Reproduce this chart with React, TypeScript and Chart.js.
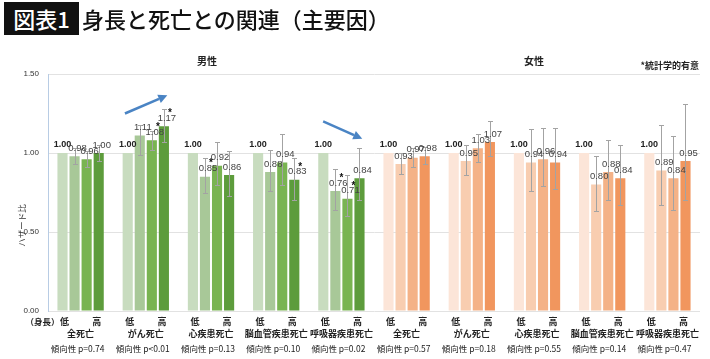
import React, { useEffect, useRef } from "react";
import { Chart, registerables } from "chart.js";
Chart.register(...registerables);

const categories = ["全死亡", "がん死亡", "心疾患死亡", "脳血管疾患死亡", "呼吸器疾患死亡", "全死亡", "がん死亡", "心疾患死亡", "脳血管疾患死亡", "呼吸器疾患死亡"];
const trendP = ["p=0.74", "p<0.01", "p=0.13", "p=0.10", "p=0.02", "p=0.57", "p=0.18", "p=0.55", "p=0.14", "p=0.47"];
const sexLabels = ["男性", "女性"];
const yTicks = [0, 0.5, 1.0, 1.5];

// hazard ratios by height quartile (低 → 高)
const q1 = [1.0, 1.0, 1.0, 1.0, 1.0, 1.0, 1.0, 1.0, 1.0, 1.0];
const q2 = [0.98, 1.11, 0.85, 0.88, 0.76, 0.93, 0.95, 0.94, 0.80, 0.89];
const q3 = [0.96, 1.08, 0.92, 0.94, 0.71, 0.97, 1.03, 0.96, 0.88, 0.84];
const q4 = [1.0, 1.17, 0.86, 0.83, 0.84, 0.98, 1.07, 0.94, 0.84, 0.95];
// 95% confidence intervals
const q2Low = [0.93, 0.99, 0.75, 0.76, 0.64, 0.87, 0.86, 0.76, 0.63, 0.67];
const q2High = [1.03, 1.18, 0.97, 1.02, 0.9, 1.0, 1.05, 1.15, 0.98, 1.18];
const q3Low = [0.91, 1.02, 0.8, 0.8, 0.6, 0.91, 0.94, 0.79, 0.7, 0.64];
const q3High = [1.01, 1.14, 1.07, 1.12, 0.86, 1.03, 1.12, 1.16, 1.08, 1.11];
const q4Low = [0.95, 1.07, 0.73, 0.7, 0.7, 0.93, 0.98, 0.77, 0.67, 0.7];
const q4High = [1.05, 1.28, 1.01, 0.97, 1.03, 1.04, 1.2, 1.16, 1.05, 1.31];
// statistically significant: [group, quartile index]
const significant: [number, number][] = [[1, 2], [1, 3], [2, 1], [3, 3], [4, 1], [4, 2]];
// trend arrows in data coordinates: [category position, hazard ratio]
const trendArrows = [
  { from: [0.68, 1.25], to: [1.33, 1.365] },
  { from: [3.72, 1.2], to: [4.32, 1.09] },
];

const maleColors = ["#c8dcbf", "#a8c898", "#79b451", "#5d9c3c"];
const femaleColors = ["#fce5d8", "#f8cdb0", "#f4b287", "#f1965e"];

const JP = '"Noto Sans CJK JP", "Noto Sans", sans-serif';
const NUM = '"Liberation Sans", "Noto Sans", sans-serif';

const annotPlugin = {
  id: "annot",
  afterDatasetsDraw(chart: any) {
    const ctx = chart.ctx;
    const xs = chart.scales.x;
    const ys = chart.scales.y;
    const area = chart.chartArea;
    const metas = [0, 1, 2, 3].map((i) => chart.getDatasetMeta(i));
    const values = [q1, q2, q3, q4];
    const lows = [null, q2Low, q3Low, q4Low];
    const highs = [null, q2High, q3High, q4High];
    ctx.save();

    // error bars
    ctx.strokeStyle = "#a3a3a3";
    ctx.lineWidth = 1;
    for (let d = 1; d < 4; d++) {
      for (let g = 0; g < categories.length; g++) {
        const bar = metas[d].data[g];
        const px = Math.round(bar.x) + 0.5;
        const yl = Math.round(ys.getPixelForValue(lows[d]![g])) + 0.5;
        const yh = Math.round(ys.getPixelForValue(highs[d]![g])) + 0.5;
        ctx.beginPath();
        ctx.moveTo(px, yl);
        ctx.lineTo(px, yh);
        ctx.moveTo(px - 2.5, yl);
        ctx.lineTo(px + 2.5, yl);
        ctx.moveTo(px - 2.5, yh);
        ctx.lineTo(px + 2.5, yh);
        ctx.stroke();
      }
    }

    // value labels
    ctx.textAlign = "center";
    ctx.textBaseline = "middle";
    for (let d = 0; d < 4; d++) {
      for (let g = 0; g < categories.length; g++) {
        const bar = metas[d].data[g];
        const v = values[d][g];
        if (d === 0) {
          ctx.font = "bold 9px " + NUM;
          ctx.fillStyle = "#222";
          ctx.fillText(v.toFixed(2), bar.x, bar.y - 8);
        } else {
          ctx.font = "9.5px " + NUM;
          ctx.fillStyle = "#444";
          ctx.fillText(v.toFixed(2), bar.x + 3, bar.y - 8);
        }
      }
    }

    // significance stars
    ctx.font = "bold 10px " + NUM;
    ctx.fillStyle = "#111";
    for (const [g, d] of significant) {
      const bar = metas[d].data[g];
      ctx.fillText("*", bar.x + 6, bar.y - 13);
    }

    // arrows
    ctx.strokeStyle = "#4a84c4";
    ctx.fillStyle = "#4a84c4";
    ctx.lineWidth = 2.5;
    for (const a of trendArrows) {
      const x0 = xs.getPixelForValue(a.from[0]);
      const y0 = ys.getPixelForValue(a.from[1]);
      const x1 = xs.getPixelForValue(a.to[0]);
      const y1 = ys.getPixelForValue(a.to[1]);
      const ang = Math.atan2(y1 - y0, x1 - x0);
      const hl = 9;
      const bx = x1 - hl * Math.cos(ang);
      const by = y1 - hl * Math.sin(ang);
      ctx.beginPath();
      ctx.moveTo(x0, y0);
      ctx.lineTo(bx, by);
      ctx.stroke();
      ctx.beginPath();
      ctx.moveTo(x1, y1);
      ctx.lineTo(bx + 4.5 * Math.sin(ang), by - 4.5 * Math.cos(ang));
      ctx.lineTo(bx - 4.5 * Math.sin(ang), by + 4.5 * Math.cos(ang));
      ctx.closePath();
      ctx.fill();
    }

    // x labels
    ctx.fillStyle = "#222";
    for (let g = 0; g < categories.length; g++) {
      const cx = xs.getPixelForValue(g);
      const b0 = metas[0].data[g];
      const b3 = metas[3].data[g];
      ctx.font = "bold 9px " + JP;
      ctx.textAlign = "center";
      ctx.fillText("低", b0.x + 2, area.bottom + 11);
      ctx.fillText("高", b3.x - 2, area.bottom + 11);
      ctx.fillText(categories[g], cx, area.bottom + 23);
      ctx.font = "8.5px " + JP;
      ctx.fillText("傾向性 " + trendP[g], cx - 3, area.bottom + 38);
      if (g === 0) {
        ctx.font = "bold 8.5px " + JP;
        ctx.textAlign = "right";
        ctx.fillText("（身長）", b0.x - 3, area.bottom + 11);
      }
    }

    // section headers
    ctx.textAlign = "center";
    ctx.font = "bold 10px " + JP;
    ctx.fillStyle = "#222";
    ctx.fillText(sexLabels[0], xs.getPixelForValue(2) - 4, area.top - 13);
    ctx.fillText(sexLabels[1], xs.getPixelForValue(7) - 3, area.top - 13);
    ctx.textAlign = "right";
    ctx.font = "bold 9px " + JP;
    ctx.fillText("*統計学的有意", area.right - 1, area.top - 8);

    // y title
    ctx.save();
    ctx.translate(22, (area.top + area.bottom) / 2 + 33);
    ctx.rotate(-Math.PI / 2);
    ctx.textAlign = "center";
    ctx.font = "8.5px " + JP;
    ctx.fillStyle = "#333";
    ctx.fillText("ハザード比", 0, 0);
    ctx.restore();

    ctx.restore();
  },
};

export default function App() {
  const ref = useRef<HTMLCanvasElement | null>(null);
  useEffect(() => {
    if (!ref.current) return;
    const colorsFor = (d: number) => categories.map((_, g) => (g < 5 ? maleColors[d] : femaleColors[d]));
    const chart = new Chart(ref.current, {
      type: "bar",
      data: {
        labels: categories,
        datasets: [q1, q2, q3, q4].map((vals, d) => ({
          label: "Q" + (d + 1),
          data: vals,
          backgroundColor: colorsFor(d),
          borderWidth: 0,
          categoryPercentage: 0.74,
          barPercentage: 0.84,
        })),
      },
      options: {
        responsive: false,
        animation: false,
        devicePixelRatio: 1,
        layout: { padding: { left: 0, top: 74, right: 10, bottom: 48 } },
        plugins: { legend: { display: false }, tooltip: { enabled: false } },
        scales: {
          x: { display: false },
          y: {
            min: 0,
            max: 1.5,
            afterFit: (s: any) => {
              s.width = 48;
            },
            afterBuildTicks: (s: any) => {
              s.ticks = yTicks.map((v) => ({ value: v }));
            },
            ticks: {
              padding: 9,
              color: "#333",
              font: { size: 8, family: NUM },
              callback: (v: any) => Number(v).toFixed(2),
            },
            grid: { color: "#e2e2e2", drawTicks: false },
            border: { color: "#b8cce4", width: 1 },
          },
        },
      },
      plugins: [annotPlugin],
    });
    return () => chart.destroy();
  }, []);

  return (
    <div style={{ position: "absolute", left: 0, top: 0, width: 710, height: 359, background: "#fff", overflow: "hidden" }}>
      <canvas ref={ref} width={710} height={359} style={{ position: "absolute", left: 0, top: 0 }} />
      <div
        style={{
          position: "absolute",
          left: 4,
          top: 2,
          width: 75,
          height: 33,
          background: "#111",
          color: "#fff",
          fontFamily: JP,
          fontSize: 22,
          fontWeight: 500,
          lineHeight: "33px",
          textAlign: "center",
        }}
      >
        図表1
      </div>
      <div
        style={{
          position: "absolute",
          left: 82,
          top: 2,
          height: 33,
          color: "#111",
          fontFamily: JP,
          fontSize: 22,
          fontWeight: 500,
          lineHeight: "33px",
          whiteSpace: "nowrap",
        }}
      >
        身長と死亡との関連（主要因）
      </div>
    </div>
  );
}
